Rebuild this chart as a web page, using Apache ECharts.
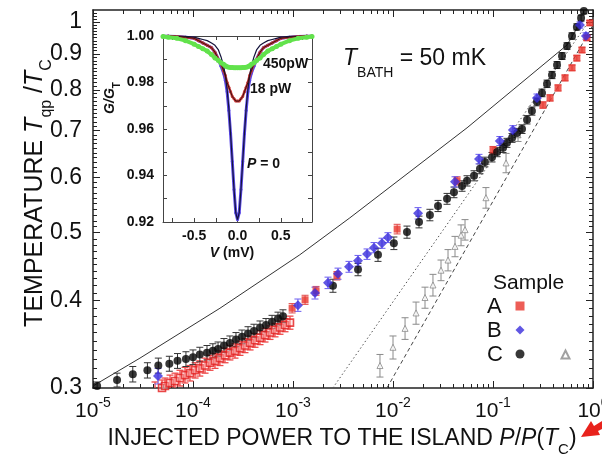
<!DOCTYPE html>
<html>
<head>
<meta charset="utf-8">
<title>Tqp vs injected power</title>
<script src="https://cdn.jsdelivr.net/npm/echarts@6.0.0/dist/echarts.min.js"></script>
<style>
html, body { margin: 0; padding: 0; background: #fff; }
#main { width: 602px; height: 458px; }
</style>
</head>
<body>
<div id="main"></div>
<script>
var FONT = '"Liberation Sans", Arial, Helvetica, sans-serif';
var L = Math.log10;

// ---- main panel: [P/P(Tc), Tqp/Tc, error bar] ----
// sample A, dense low-power run (open squares)
var sampleA_low = [
  [4.17e-5, 0.298, 0.008], [4.9e-5, 0.300, 0.008], [5.25e-5, 0.302, 0.008], [5.89e-5, 0.305, 0.008],
  [6.61e-5, 0.307, 0.008], [7.41e-5, 0.310, 0.008], [8.32e-5, 0.313, 0.008], [9.33e-5, 0.315, 0.008],
  [1.05e-4, 0.318, 0.008], [1.17e-4, 0.320, 0.008], [1.32e-4, 0.323, 0.008], [1.48e-4, 0.326, 0.008],
  [1.66e-4, 0.328, 0.008], [1.86e-4, 0.331, 0.008], [2.09e-4, 0.334, 0.008], [2.34e-4, 0.337, 0.008],
  [2.63e-4, 0.339, 0.008], [2.95e-4, 0.342, 0.008], [3.31e-4, 0.345, 0.008], [3.72e-4, 0.348, 0.008],
  [4.17e-4, 0.351, 0.008], [4.68e-4, 0.354, 0.008], [5.25e-4, 0.357, 0.008], [5.89e-4, 0.360, 0.008],
  [6.61e-4, 0.363, 0.008], [7.41e-4, 0.366, 0.008], [8.32e-4, 0.369, 0.008], [9.33e-4, 0.372, 0.008]
];
var sampleA = [
  [9.8e-4, 0.390, 0.006], [1.32e-3, 0.401, 0.006], [1.70e-3, 0.413, 0.006], [2.75e-3, 0.434, 0.006],
  [1.10e-2, 0.506, 0.008], [4.37e-2, 0.593, 0.008], [0.10, 0.656, 0.008], [0.316, 0.761, 0.008],
  [0.372, 0.779, 0.008], [0.447, 0.805, 0.008], [0.525, 0.832, 0.008], [0.617, 0.860, 0.008],
  [0.69, 0.888, 0.008], [0.776, 0.912, 0.008], [0.87, 0.949, 0.008], [0.93, 0.997, 0.008]
];
var sampleB = [
  [4.47e-5, 0.312, 0.008], [1.12e-3, 0.394, 0.008], [1.66e-3, 0.410, 0.008], [2.24e-3, 0.424, 0.008],
  [2.82e-3, 0.437, 0.008], [3.63e-3, 0.447, 0.008], [4.47e-3, 0.456, 0.008], [5.5e-3, 0.466, 0.008],
  [6.46e-3, 0.476, 0.008], [7.76e-3, 0.483, 0.008], [8.9e-3, 0.492, 0.008], [1.78e-2, 0.533, 0.010],
  [4.17e-2, 0.591, 0.010], [7.24e-2, 0.637, 0.010], [0.117, 0.676, 0.010], [0.158, 0.701, 0.010],
  [0.275, 0.779, 0.010], [0.74, 0.990, 0.010], [0.85, 0.955, 0.010]
];
var sampleC = [
  [1.1e-5, 0.302, 0.004], [1.74e-5, 0.308, 0.007], [2.5e-5, 0.314, 0.008], [3.5e-5, 0.318, 0.008],
  [4.5e-5, 0.323, 0.008], [5.8e-5, 0.325, 0.008], [7.0e-5, 0.328, 0.008], [8.5e-5, 0.330, 0.008],
  [1.0e-4, 0.332, 0.008], [1.17e-4, 0.335, 0.008], [1.38e-4, 0.337, 0.008], [1.58e-4, 0.339, 0.008],
  [1.78e-4, 0.341, 0.008], [2.04e-4, 0.345, 0.008], [2.34e-4, 0.348, 0.008], [2.69e-4, 0.352, 0.008],
  [3.09e-4, 0.355, 0.008], [3.55e-4, 0.359, 0.008], [4.07e-4, 0.362, 0.008], [4.68e-4, 0.366, 0.008],
  [5.37e-4, 0.369, 0.008], [6.17e-4, 0.373, 0.008], [7.08e-4, 0.377, 0.008], [7.94e-4, 0.380, 0.008],
  [2.51e-3, 0.420, 0.009], [4.47e-3, 0.443, 0.009], [7.08e-3, 0.465, 0.010], [1.02e-2, 0.483, 0.010],
  [1.38e-2, 0.501, 0.010], [1.82e-2, 0.518, 0.010], [2.34e-2, 0.530, 0.010], [2.82e-2, 0.546, 0.010],
  [3.47e-2, 0.559, 0.010], [4.07e-2, 0.571, 0.010], [4.9e-2, 0.583, 0.010], [5.5e-2, 0.593, 0.010],
  [6.46e-2, 0.603, 0.010], [7.41e-2, 0.617, 0.010], [8.3e-2, 0.631, 0.010], [9.77e-2, 0.641, 0.010],
  [0.11, 0.652, 0.010], [0.126, 0.661, 0.010], [0.138, 0.672, 0.010], [0.155, 0.683, 0.010],
  [0.174, 0.694, 0.010], [0.195, 0.703, 0.010], [0.219, 0.725, 0.010], [0.245, 0.746, 0.010],
  [0.275, 0.769, 0.010], [0.309, 0.792, 0.010], [0.347, 0.816, 0.010], [0.389, 0.840, 0.010],
  [0.437, 0.868, 0.010], [0.49, 0.894, 0.010], [0.55, 0.924, 0.010], [0.617, 0.955, 0.010],
  [0.69, 0.984, 0.010], [0.76, 1.013, 0.010], [0.81, 1.037, 0.010]
];
// sample C, second run (open triangles)
var sampleC_open = [
  [7.41e-3, 0.323, 0.012], [1.0e-2, 0.343, 0.013], [1.32e-2, 0.365, 0.013], [1.70e-2, 0.384, 0.014],
  [2.09e-2, 0.404, 0.014], [2.51e-2, 0.421, 0.015], [3.02e-2, 0.442, 0.015], [3.55e-2, 0.457, 0.016],
  [4.17e-2, 0.478, 0.016], [4.79e-2, 0.496, 0.017], [5.25e-2, 0.505, 0.017], [8.5e-2, 0.561, 0.019],
  [0.135, 0.629, 0.020], [0.178, 0.690, 0.015]
];
var theoryLine = [[1e-5, 0.302], [2.95e-5, 0.331], [1.86e-4, 0.390], [1.17e-3, 0.465],
  [3.7e-3, 0.525], [5.5e-2, 0.706], [0.55, 0.927], [0.75, 1.0]];
var dottedLine = [[2.5e-3, 0.300], [0.9, 1.0]];
var dashedLine = [[8.7e-3, 0.300], [1.0, 0.99]];

// ---- inset: G/G_T vs V (mV) ----
var insetV = [-0.86, -0.8, -0.7, -0.6, -0.5, -0.45, -0.4, -0.35, -0.3, -0.26, -0.22, -0.19, -0.16, -0.14,
  -0.12, -0.1, -0.08, -0.06, -0.04, -0.02, 0, 0.02, 0.04, 0.06, 0.08, 0.1, 0.12, 0.14, 0.16, 0.19,
  0.22, 0.26, 0.3, 0.35, 0.4, 0.45, 0.5, 0.6, 0.7, 0.8, 0.86];
var gZeroData = [1.000, 1.000, 0.9998, 0.9995, 0.999, 0.998, 0.997, 0.996, 0.995, 0.993, 0.990, 0.987, 0.984,
  0.981, 0.976, 0.968, 0.958, 0.946, 0.934, 0.924, 0.921, 0.924, 0.934, 0.946, 0.958, 0.968, 0.976,
  0.981, 0.984, 0.987, 0.990, 0.993, 0.995, 0.996, 0.997, 0.998, 0.999, 0.9995, 0.9998, 1.000, 1.000];
var gZeroFit = [1.000, 1.000, 1.000, 0.9998, 0.9995, 0.999, 0.9985, 0.998, 0.997, 0.996, 0.994, 0.991, 0.987,
  0.983, 0.977, 0.969, 0.958, 0.946, 0.934, 0.924, 0.921, 0.924, 0.934, 0.946, 0.958, 0.969, 0.977,
  0.983, 0.987, 0.991, 0.994, 0.996, 0.997, 0.998, 0.9985, 0.999, 0.9995, 0.9998, 1.000, 1.000, 1.000];
var g18pW = [1.000, 1.000, 0.9998, 0.9995, 0.999, 0.998, 0.997, 0.996, 0.995, 0.993, 0.990, 0.988, 0.985,
  0.983, 0.980, 0.978, 0.976, 0.974, 0.973, 0.972, 0.972, 0.972, 0.973, 0.974, 0.976, 0.978, 0.980,
  0.983, 0.985, 0.988, 0.990, 0.993, 0.995, 0.996, 0.997, 0.998, 0.999, 0.9995, 0.9998, 1.000, 1.000];
var g450pW = [0.9998, 0.9995, 0.999, 0.998, 0.9965, 0.9955, 0.9945, 0.9935, 0.992, 0.9905, 0.9895, 0.9885,
  0.9878, 0.9872, 0.9868, 0.9866, 0.9865, 0.9864, 0.9863, 0.9863, 0.9863, 0.9863, 0.9863, 0.9864,
  0.9865, 0.9866, 0.9868, 0.9872, 0.9878, 0.9885, 0.9895, 0.9905, 0.992, 0.9935, 0.9945, 0.9955,
  0.9965, 0.998, 0.999, 0.9995, 0.9998];

// ---- ticks ----
var xMajor = [1e-5, 1e-4, 1e-3, 1e-2, 1e-1, 1];
var xMinor = [];
for (var n = -5; n < 0; n++) for (var k = 2; k <= 9; k++) xMinor.push(k * Math.pow(10, n));
var yMajor = [0.3, 0.4, 0.5, 0.6, 0.7, 0.8, 0.9, 1];
var yMinor = [];
for (var i = 31; i <= 103; i++) if (i % 10) yMinor.push(i / 100);
var vMajor = [-0.5, 0, 0.5];
var vTicks = [-0.75, -0.5, -0.25, 0, 0.25, 0.5, 0.75];
var gMajor = [0.92, 0.94, 0.96, 0.98, 1.0];
var gTicks = [0.92, 0.93, 0.94, 0.95, 0.96, 0.97, 0.98, 0.99, 1.0];

var Y_MIN = L(0.3), Y_MAX = L(0.3) + 378 / 700;

function logPts(arr) { return arr.map(function (d) { return [L(d[0]), L(d[1])]; }); }
function insetPts(g) { return insetV.map(function (v, i) { return [v, g[i]]; }); }

function errorBars(data, color, width) {
  return {
    type: 'custom', xAxisIndex: 0, yAxisIndex: 0, clip: true, silent: true, z: 3,
    data: data.map(function (d) { return [L(d[0]), L(d[1] - d[2]), L(d[1] + d[2])]; }),
    renderItem: function (params, api) {
      var lo = api.coord([api.value(0), api.value(1)]);
      var hi = api.coord([api.value(0), api.value(2)]);
      var w = 3.5, st = { stroke: color, lineWidth: width || 1 };
      return { type: 'group', children: [
        { type: 'line', shape: { x1: lo[0], y1: lo[1], x2: hi[0], y2: hi[1] }, style: st },
        { type: 'line', shape: { x1: lo[0] - w, y1: lo[1], x2: lo[0] + w, y2: lo[1] }, style: st },
        { type: 'line', shape: { x1: hi[0] - w, y1: hi[1], x2: hi[0] + w, y2: hi[1] }, style: st }
      ] };
    }
  };
}

function points(name, data, symbol, size, style, z) {
  return { name: name, type: 'scatter', xAxisIndex: 0, yAxisIndex: 0, symbol: symbol, symbolSize: size,
    itemStyle: style, data: logPts(data), z: z, silent: true };
}

function tickAxis(grid, pos, min, max, ticks, len, line, color) {
  return {
    type: 'value', gridIndex: grid, position: pos, min: min, max: max,
    axisLine: { show: line, onZero: false, lineStyle: { color: color, width: grid === 0 ? 1.5 : 1 } },
    axisTick: { show: true, inside: true, length: len, customValues: ticks, lineStyle: { color: color, width: 1 } },
    axisLabel: { show: false }, splitLine: { show: false }, axisPointer: { show: false }
  };
}

// main axes
var xMain = tickAxis(0, 'bottom', -5, 0, xMajor.map(L), 7, true, '#222');
xMain.axisLabel = {
  show: true, customValues: xMajor.map(L), margin: 8,
  formatter: function (v) { return '{b|10}{s|' + Math.round(v) + '}'; },
  rich: {
    b: { fontSize: 21, fontFamily: FONT, color: '#111', lineHeight: 26, verticalAlign: 'bottom' },
    s: { fontSize: 14, fontFamily: FONT, color: '#111', lineHeight: 10, verticalAlign: 'top' }
  }
};
var yMain = tickAxis(0, 'left', Y_MIN, Y_MAX, yMajor.map(L), 7, true, '#222');
yMain.axisLabel = {
  show: true, customValues: yMajor.map(L), margin: 11, fontSize: 23, fontFamily: FONT, color: '#111',
  formatter: function (v) { return String(Math.round(Math.pow(10, v) * 10) / 10); }
};

// inset axes
var xInset = tickAxis(1, 'bottom', -0.86, 0.86, vTicks, 4, true, '#444');
xInset.axisLabel = {
  show: true, customValues: vMajor, margin: 7, fontSize: 14, fontWeight: 'bold', fontFamily: FONT, color: '#111',
  formatter: function (v) { return v.toFixed(1); }
};
var yInset = tickAxis(1, 'left', 0.92, 1.0, gTicks, 4, true, '#444');
yInset.axisLabel = {
  show: true, customValues: gMajor, margin: 9, fontSize: 14, fontWeight: 'bold', fontFamily: FONT, color: '#111',
  formatter: function (v) { return v.toFixed(2); }
};

var chart = echarts.init(document.getElementById('main'));

// rich styles: main text hangs from the line top, subscript sits on the line bottom
function subRich(size, subSize, subLine) {
  return {
    n: { fontSize: size, fontFamily: FONT, fill: '#111', lineHeight: size + 2, verticalAlign: 'top' },
    i: { fontSize: size, fontFamily: FONT, fontStyle: 'italic', fill: '#111', lineHeight: size + 2, verticalAlign: 'top' },
    s: { fontSize: subSize, fontFamily: FONT, fill: '#111', lineHeight: subLine, verticalAlign: 'bottom' }
  };
}
var boldRich = {
  b: { fontSize: 14, fontFamily: FONT, fontWeight: 'bold', fill: '#111', lineHeight: 16, verticalAlign: 'top' },
  i: { fontSize: 14, fontFamily: FONT, fontWeight: 'bold', fontStyle: 'italic', fill: '#111', lineHeight: 16, verticalAlign: 'top' },
  s: { fontSize: 10, fontFamily: FONT, fontWeight: 'bold', fill: '#111', lineHeight: 19, verticalAlign: 'bottom' }
};

chart.setOption({
  animation: false,
  backgroundColor: '#fff',
  grid: [
    { left: 93, top: 10, width: 500, height: 378, containLabel: false, outerBoundsMode: 'none' },
    { left: 163, top: 36, width: 149, height: 186, containLabel: false, outerBoundsMode: 'none',
      show: true, backgroundColor: '#fff', borderWidth: 0 }
  ],
  xAxis: [
    xMain,
    tickAxis(0, 'bottom', -5, 0, xMinor.map(L), 4, false, '#222'),
    tickAxis(0, 'top', -5, 0, xMajor.map(L), 7, true, '#222'),
    tickAxis(0, 'top', -5, 0, xMinor.map(L), 4, false, '#222'),
    xInset,
    tickAxis(1, 'top', -0.86, 0.86, vTicks, 4, true, '#444')
  ],
  yAxis: [
    yMain,
    tickAxis(0, 'left', Y_MIN, Y_MAX, yMinor.map(L), 4, false, '#222'),
    tickAxis(0, 'right', Y_MIN, Y_MAX, yMajor.map(L), 7, true, '#222'),
    tickAxis(0, 'right', Y_MIN, Y_MAX, yMinor.map(L), 4, false, '#222'),
    yInset,
    tickAxis(1, 'right', 0.92, 1.0, gTicks, 4, true, '#444')
  ],
  legend: [
    { left: 515.5, top: 301.5, orient: 'vertical', padding: 0, itemWidth: 9, itemHeight: 9, itemGap: 15,
      selectedMode: false, data: ['A', 'B', 'C'], formatter: function () { return ''; },
      textStyle: { fontSize: 9, lineHeight: 9 } },
    { left: 560.5, top: 349.5, orient: 'vertical', padding: 0, itemWidth: 8, itemHeight: 8,
      selectedMode: false, data: ['C open'], formatter: function () { return ''; },
      textStyle: { fontSize: 8, lineHeight: 8 } }
  ],
  series: [
    { type: 'line', xAxisIndex: 0, yAxisIndex: 0, data: logPts(theoryLine), symbol: 'none', silent: true, z: 2,
      lineStyle: { color: '#333', width: 1 } },
    { type: 'line', xAxisIndex: 0, yAxisIndex: 0, data: logPts(dottedLine), symbol: 'none', silent: true, z: 2,
      lineStyle: { color: '#555', width: 1, type: [1.5, 2.5] } },
    { type: 'line', xAxisIndex: 0, yAxisIndex: 0, data: logPts(dashedLine), symbol: 'none', silent: true, z: 2,
      lineStyle: { color: '#444', width: 1, type: [4, 3] } },
    errorBars(sampleA_low, '#ee4a4a', 1.3),
    errorBars(sampleC_open, '#8a8a8a'),
    errorBars(sampleC, '#333'),
    errorBars(sampleA, '#e04848'),
    errorBars(sampleB, '#6a5cf0'),
    points('A low', sampleA_low, 'rect', 7, { color: 'rgba(255,200,200,0.5)', borderColor: '#e41c1c', borderWidth: 1.6 }, 4),
    points('C open', sampleC_open, 'triangle', 6, { color: '#fff', borderColor: '#8a8a8a', borderWidth: 1 }, 4),
    points('A', sampleA, 'rect', 7, { color: '#e8342c' }, 5),
    points('C', sampleC, 'circle', 8, { color: '#050505' }, 6),
    points('B', sampleB, 'diamond', 10, { color: '#3a2ddc' }, 7),
    // inset curves
    { type: 'line', xAxisIndex: 4, yAxisIndex: 4, data: insetPts(gZeroData), silent: true, z: 10,
      symbol: 'circle', symbolSize: 3, showSymbol: true, itemStyle: { color: '#5846e6' },
      lineStyle: { color: '#5846e6', width: 3 } },
    { type: 'line', xAxisIndex: 4, yAxisIndex: 4, data: insetPts(g18pW), silent: true, z: 11,
      symbol: 'circle', symbolSize: 3, showSymbol: true, itemStyle: { color: '#c83838' },
      lineStyle: { color: '#c83838', width: 2.5 } },
    { type: 'line', xAxisIndex: 4, yAxisIndex: 4, data: insetPts(gZeroFit), symbol: 'none', silent: true, z: 12,
      lineStyle: { color: '#14143c', width: 1.2 } },
    { type: 'line', xAxisIndex: 4, yAxisIndex: 4, data: insetPts(g18pW), symbol: 'none', silent: true, z: 12,
      lineStyle: { color: '#3a1010', width: 1 } },
    { type: 'line', xAxisIndex: 4, yAxisIndex: 4, data: insetPts(g450pW), silent: true, z: 13,
      symbol: 'circle', symbolSize: 5, showSymbol: true, itemStyle: { color: '#62e24c' },
      lineStyle: { color: '#62e24c', width: 4 } }
  ],
  graphic: [
    { type: 'text', x: 39, y: 193, rotation: Math.PI / 2, silent: true,
      style: { text: '{n|TEMPERATURE }{i|T}{s|qp}{n| /}{i|T}{s|C}', rich: subRich(25, 16, 32), align: 'center', verticalAlign: 'middle' } },
    { type: 'text', x: 342, y: 427, silent: true,
      style: { text: '{n|INJECTED POWER TO THE ISLAND }{i|P}{n|/}{i|P}{n|(}{i|T}{s|C}{n|)}', rich: subRich(23, 15, 30), align: 'center', verticalAlign: 'top' } },
    { type: 'text', x: 343, y: 47, silent: true,
      style: { text: '{i|T}{s|BATH}{n| = 50 mK}', rich: subRich(23, 14, 33), align: 'left', verticalAlign: 'top' } },
    { type: 'text', x: 493, y: 283, silent: true,
      style: { text: 'Sample', fontSize: 21, fontFamily: FONT, fill: '#111', verticalAlign: 'middle' } },
    { type: 'text', x: 487, y: 307, silent: true,
      style: { text: 'A', fontSize: 22, fontFamily: FONT, fill: '#111', verticalAlign: 'middle' } },
    { type: 'text', x: 487, y: 331, silent: true,
      style: { text: 'B', fontSize: 22, fontFamily: FONT, fill: '#111', verticalAlign: 'middle' } },
    { type: 'text', x: 487, y: 355, silent: true,
      style: { text: 'C', fontSize: 22, fontFamily: FONT, fill: '#111', verticalAlign: 'middle' } },
    // inset texts
    { type: 'text', x: 113, y: 98, rotation: Math.PI / 2, silent: true,
      style: { text: '{i|G/G}{s|T}', rich: boldRich, align: 'center', verticalAlign: 'middle' } },
    { type: 'text', x: 232, y: 246, silent: true,
      style: { text: '{i|V}{b| (mV)}', rich: boldRich, align: 'center', verticalAlign: 'top' } },
    { type: 'text', x: 263, y: 57, silent: true,
      style: { text: '{b|450pW}', rich: boldRich, align: 'left', verticalAlign: 'top' } },
    { type: 'text', x: 250, y: 82, silent: true,
      style: { text: '{b|18 pW}', rich: boldRich, align: 'left', verticalAlign: 'top' } },
    { type: 'text', x: 247, y: 157, silent: true,
      style: { text: '{i|P}{b| = 0}', rich: boldRich, align: 'left', verticalAlign: 'top' } },
    // red pointer in the corner
    { type: 'polygon', silent: true,
      shape: { points: [[581, 437], [591, 421], [594, 426], [602, 421], [602, 429], [598, 431], [600, 435]] },
      style: { fill: '#e8221c' } }
  ]
});
</script>
</body>
</html>
